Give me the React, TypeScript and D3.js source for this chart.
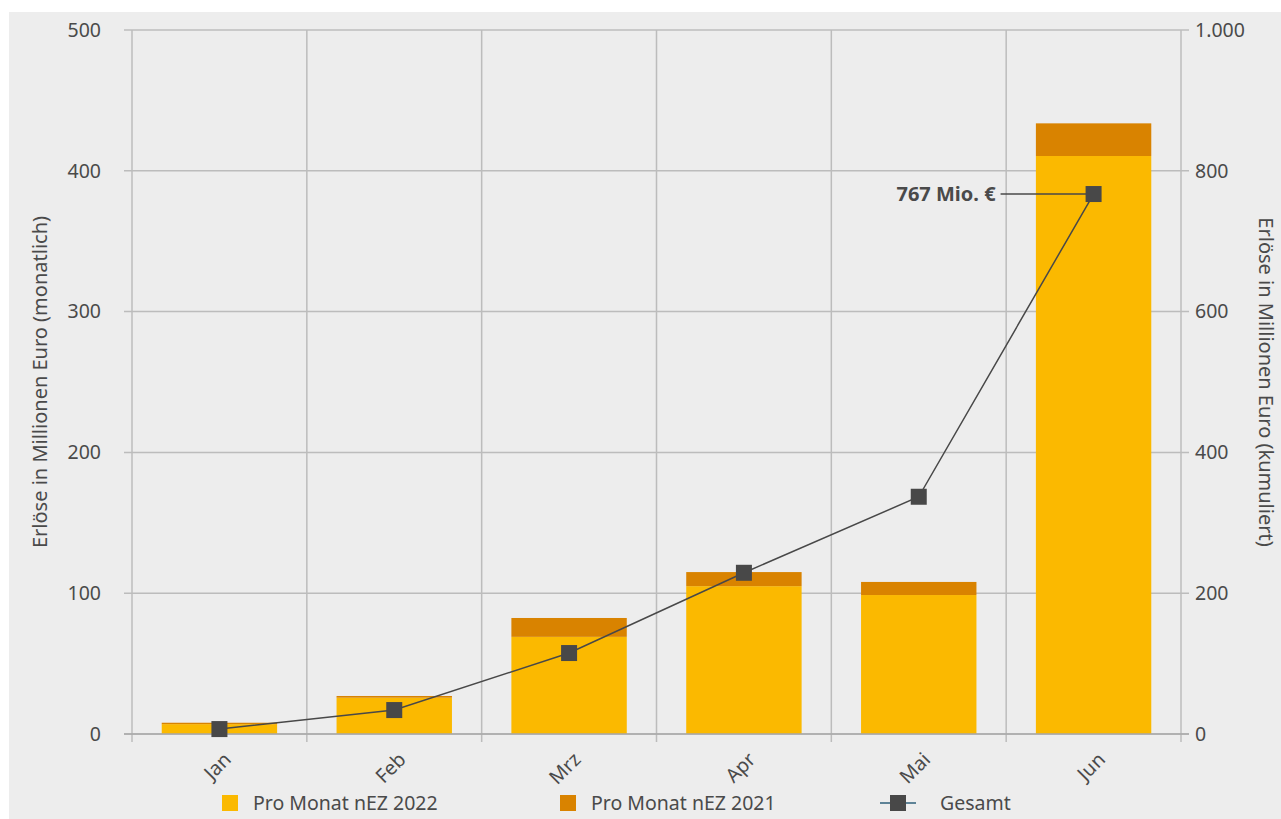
import React, { useEffect, useRef } from 'react';
import * as d3 from 'd3';

const months = ['Jan', 'Feb', 'Mrz', 'Apr', 'Mai', 'Jun'];
const nez2022 = [7, 25.8, 69, 105, 98.7, 410.5];
const nez2021 = [1, 1.2, 13.4, 10, 9.3, 23.2];
const gesamt = [7, 34, 115, 229, 337, 767];
const leftTicks = [0, 100, 200, 300, 400, 500];
const rightTicks = [0, 200, 400, 600, 800, 1000];

const fmtDe = (v: number) => d3.format(',')(v).replace(/,/g, '.');

const App: React.FC = () => {
  const svgRef = useRef<SVGSVGElement>(null);

  useEffect(() => {
    if (!svgRef.current) return;
    const svg = d3.select(svgRef.current);
    svg.selectAll('*').remove();

    const width = 1281;
    const height = 819;
    const margin = { top: 30, right: 100, bottom: 85, left: 132 };
    const font = "'Noto Sans', sans-serif";
    const fs = 19.5;
    const textColor = '#4a4a4a';
    const gridColor = '#bcbcbc';

    svg.append('rect')
      .attr('x', 9).attr('y', 12)
      .attr('width', width - 9).attr('height', height - 12)
      .attr('fill', '#ededed');

    const x = d3.scaleBand()
      .domain(months)
      .range([margin.left, width - margin.right])
      .paddingInner(0.34)
      .paddingOuter(0.17);
    // boundaries of categories for gridlines
    const step = x.step();
    const x0 = margin.left;

    const yL = d3.scaleLinear().domain([0, 500]).range([height - margin.bottom, margin.top]);
    const yR = d3.scaleLinear().domain([0, 1000]).range([height - margin.bottom, margin.top]);

    const grid = svg.append('g');
    // horizontal gridlines
    grid.selectAll('line.h')
      .data(leftTicks)
      .enter()
      .append('line')
      .attr('x1', x0 - 8)
      .attr('x2', width - margin.right + 8)
      .attr('y1', (d) => yL(d))
      .attr('y2', (d) => yL(d))
      .attr('stroke', gridColor)
      .attr('stroke-width', 1.5);
    // vertical gridlines
    grid.selectAll('line.v')
      .data(d3.range(months.length + 1))
      .enter()
      .append('line')
      .attr('x1', (i) => x0 + i * step)
      .attr('x2', (i) => x0 + i * step)
      .attr('y1', margin.top)
      .attr('y2', (i) => yL(0) + 8)
      .attr('stroke', gridColor)
      .attr('stroke-width', 1.5);

    // stacked bars
    const bars = svg.append('g');
    months.forEach((m, i) => {
      bars.append('rect')
        .attr('x', x(m) || 0)
        .attr('y', yL(nez2022[i]))
        .attr('width', x.bandwidth())
        .attr('height', yL(0) - yL(nez2022[i]))
        .attr('fill', '#fbb900');
      bars.append('rect')
        .attr('x', x(m) || 0)
        .attr('y', yL(nez2022[i] + nez2021[i]))
        .attr('width', x.bandwidth())
        .attr('height', yL(nez2022[i]) - yL(nez2022[i] + nez2021[i]))
        .attr('fill', '#d98300');
    });

    // baseline on top of bars
    svg.append('line')
      .attr('x1', x0 - 8).attr('x2', width - margin.right + 8)
      .attr('y1', yL(0)).attr('y2', yL(0))
      .attr('stroke', '#a8a8a8').attr('stroke-width', 1.5);

    // left tick labels
    svg.append('g').selectAll('text')
      .data(leftTicks)
      .enter()
      .append('text')
      .attr('x', x0 - 31)
      .attr('y', (d) => yL(d))
      .attr('dy', '0.35em')
      .attr('text-anchor', 'end')
      .attr('font-family', font)
      .attr('font-size', fs)
      .attr('fill', textColor)
      .text((d) => d);

    // right tick labels
    svg.append('g').selectAll('text')
      .data(rightTicks)
      .enter()
      .append('text')
      .attr('x', width - margin.right + 14)
      .attr('y', (d) => yR(d))
      .attr('dy', '0.35em')
      .attr('text-anchor', 'start')
      .attr('font-family', font)
      .attr('font-size', fs)
      .attr('fill', textColor)
      .text((d) => fmtDe(d));

    // x labels
    svg.append('g').selectAll('text')
      .data(months)
      .enter()
      .append('text')
      .attr('transform', (d) => `translate(${(x(d) || 0) + x.bandwidth() / 2 + 8},${yL(0) + 22}) rotate(-45)`)
      .attr('text-anchor', 'end')
      .attr('dy', '0.35em')
      .attr('font-family', font)
      .attr('font-size', fs)
      .attr('fill', textColor)
      .text((d) => d);

    // axis titles
    const midY = (yL(0) + yL(500)) / 2;
    svg.append('text')
      .attr('transform', `translate(47,${midY}) rotate(-90)`)
      .attr('text-anchor', 'middle')
      .attr('font-family', font)
      .attr('font-size', 20)
      .attr('fill', textColor)
      .text('Erlöse in Millionen Euro (monatlich)');
    svg.append('text')
      .attr('transform', `translate(1259,${midY}) rotate(90)`)
      .attr('text-anchor', 'middle')
      .attr('font-family', font)
      .attr('font-size', 20)
      .attr('fill', textColor)
      .text('Erlöse in Millionen Euro (kumuliert)');

    // cumulative line
    const cx = (m: string) => (x(m) || 0) + x.bandwidth() / 2;
    const line = d3.line<number>()
      .x((_, i) => cx(months[i]))
      .y((d) => yR(d));
    svg.append('path')
      .datum(gesamt)
      .attr('d', line)
      .attr('fill', 'none')
      .attr('stroke', '#484848')
      .attr('stroke-width', 1.5);

    // annotation for last point
    const last = gesamt.length - 1;
    const lx = cx(months[last]);
    const ly = yR(gesamt[last]);
    svg.append('line')
      .attr('x1', lx - 93).attr('x2', lx)
      .attr('y1', ly).attr('y2', ly)
      .attr('stroke', '#484848').attr('stroke-width', 1.5);
    svg.append('text')
      .attr('x', lx - 98)
      .attr('y', ly)
      .attr('dy', '0.35em')
      .attr('text-anchor', 'end')
      .attr('font-family', font)
      .attr('font-size', 20)
      .attr('font-weight', 'bold')
      .attr('fill', textColor)
      .text(`${gesamt[last]} Mio. €`);

    svg.append('g').selectAll('rect')
      .data(gesamt)
      .enter()
      .append('rect')
      .attr('x', (_, i) => cx(months[i]) - 8)
      .attr('y', (d) => yR(d) - 8)
      .attr('width', 16)
      .attr('height', 16)
      .attr('fill', '#484848');

    // legend
    const ly0 = 803;
    const legend = svg.append('g').attr('font-family', font).attr('font-size', fs).attr('fill', textColor);
    legend.append('rect').attr('x', 222).attr('y', ly0 - 8).attr('width', 16).attr('height', 16).attr('fill', '#fbb900');
    legend.append('text').attr('x', 253).attr('y', ly0).attr('dy', '0.35em').text('Pro Monat nEZ 2022');
    legend.append('rect').attr('x', 560).attr('y', ly0 - 8).attr('width', 16).attr('height', 16).attr('fill', '#d98300');
    legend.append('text').attr('x', 591).attr('y', ly0).attr('dy', '0.35em').text('Pro Monat nEZ 2021');
    legend.append('line').attr('x1', 880).attr('x2', 916).attr('y1', ly0).attr('y2', ly0)
      .attr('stroke', '#2e5f7a').attr('stroke-width', 1.5);
    legend.append('rect').attr('x', 890).attr('y', ly0 - 8).attr('width', 16).attr('height', 16).attr('fill', '#484848');
    legend.append('text').attr('x', 940).attr('y', ly0).attr('dy', '0.35em').text('Gesamt');
  }, []);

  return (
    <div style={{ position: 'absolute', left: 0, top: 0 }}>
      <svg ref={svgRef} width={1281} height={819} style={{ display: 'block' }}></svg>
    </div>
  );
};

export default App;
